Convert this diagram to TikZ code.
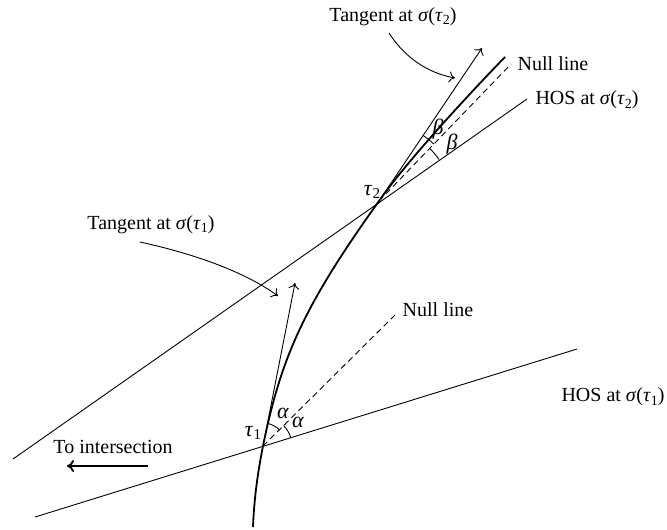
\documentclass[tikz,border=0pt]{standalone}
\usepackage{fontspec}
\setmainfont{Liberation Serif}
\usetikzlibrary{angles,arrows.meta}
\newcommand\gsym[1]{\textit{#1}}
\newcommand\sgat[1]{\textit{σ}(\textit{τ}\raisebox{-0.35ex}{\fontsize{7}{8}\selectfont #1})}
\begin{document}
\begin{tikzpicture}[x=0.5pt,y=-0.5pt,
  thinline/.style={line width=0.45pt},
  curveline/.style={line width=0.9pt},
  thinarrow/.style={line width=0.45pt,-{To[length=3pt,width=5.5pt]}},
  thickarrow/.style={line width=0.9pt,-{To[length=3.5pt,width=6pt]}},
  nullline/.style={line width=0.45pt,dashed,dash pattern=on 3pt off 2pt},
  lbl/.style={inner sep=1pt,font=\fontsize{10}{12}\selectfont},
  glbl/.style={inner sep=1pt,font=\fontsize{11}{12}\selectfont},
  anglemark/.style={draw,line width=0.45pt}]
\useasboundingbox (0,0) rectangle (667,529);
% key points
\coordinate (B) at (253,527);
\coordinate (P1) at (263,446);
\coordinate (P2) at (379,201);
\coordinate (E) at (505,57);
\coordinate (T1) at (295,283);
\coordinate (N1) at (396,314);
\coordinate (H1a) at (35,517);
\coordinate (H1b) at (577,349);
\coordinate (T2) at (482,48);
\coordinate (N2) at (511,64);
\coordinate (H2a) at (13,459);
\coordinate (H2b) at (527,99);
% curve
\draw[curveline] (B) .. controls (254,500) and (257.6,473) .. (P1)
  .. controls (281,358) and (303,307) .. (P2)
  .. controls (407,161) and (470,93) .. (E);
% HOS lines
\draw[thinline] (H1a) -- (H1b);
\draw[thinline] (H2a) -- (H2b);
% tangents
\draw[thinarrow] (P1) -- (T1);
\draw[thinarrow] (P2) -- (T2);
% null lines
\draw[nullline] (P1) -- (N1);
\draw[nullline] (P2) -- (N2);
% angle marks
\pic[anglemark, angle radius=11.5pt] {angle = N1--P1--T1};
\pic[anglemark, angle radius=14.5pt] {angle = H1b--P1--N1};
\pic[anglemark, angle radius=39.5pt] {angle = N2--P2--T2};
\pic[anglemark, angle radius=36.5pt] {angle = H2b--P2--N2};
% labels
\node[glbl] (a1) at (283,413) {\gsym{α}};
\node[glbl] (a2) at (298,422) {\gsym{α}};
\node[glbl] (b1) at (438,129) {\gsym{β}};
\node[glbl] (b2) at (452,144) {\gsym{β}};
\node[glbl] (t1) at (253,433) {\textit{τ}\raisebox{-0.35ex}{\fontsize{7.5}{8}\selectfont 1}};
\node[glbl] (t2) at (372,192) {\textit{τ}\raisebox{-0.35ex}{\fontsize{7.5}{8}\selectfont 2}};
\node[lbl] (n1) at (438,310) {Null line};
\node[lbl] (n2) at (553,64) {Null line};
\node[lbl] (h1) at (613,397) {HOS at \sgat{1}};
\node[lbl] (h2) at (587,100) {HOS at \sgat{2}};
\node[lbl] (L1) at (151,225) {Tangent at \sgat{1}};
\node[lbl] (L2) at (393,17) {Tangent at \sgat{2}};
\node[lbl] (ti) at (113,447) {To intersection};
% pointer arrows
\coordinate (A1s) at (140,242);
\coordinate (A1e) at (278,296);
\coordinate (A2s) at (389,33);
\coordinate (A2e) at (455,78);
\draw[thinarrow] (A1s) .. controls (195,254) and (245,272) .. (A1e);
\draw[thinarrow] (A2s) .. controls (405,58) and (428,73) .. (A2e);
\coordinate (Is) at (148,466);
\coordinate (Ie) at (67,466);
\draw[thickarrow] (Is) -- (Ie);
\end{tikzpicture}
\end{document}
